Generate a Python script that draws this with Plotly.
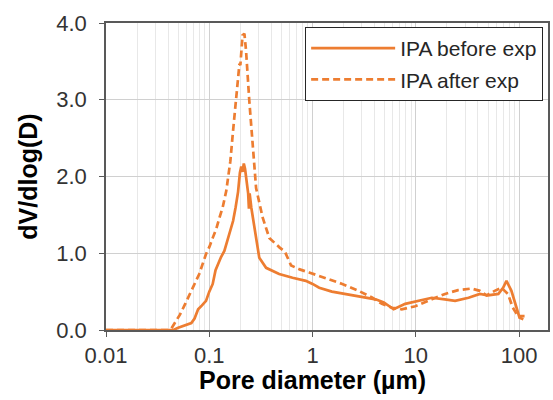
import plotly.graph_objects as go

# Pore diameter (µm) and dV/dlog(D)
before_d = [0.01, 0.03, 0.045, 0.05, 0.06, 0.067, 0.072, 0.078, 0.085, 0.093, 0.1, 0.108,
            0.115, 0.121, 0.13, 0.14, 0.15, 0.163, 0.17, 0.18, 0.19, 0.198, 0.204, 0.21,
            0.216, 0.222, 0.23, 0.238, 0.242, 0.246, 0.255, 0.275, 0.305, 0.355, 0.475,
            0.64, 0.86, 1.0, 1.16, 1.54, 2.24, 3.24, 4.08, 4.9, 6.1, 7.9, 10.6, 14.3, 19.1,
            24, 32.4, 41.7, 50, 63, 70, 75.5, 84.3, 91.4, 101, 110]
before_v = [0, 0, 0, 0.03, 0.07, 0.09, 0.15, 0.27, 0.32, 0.38, 0.5, 0.6,
            0.78, 0.86, 0.95, 1.03, 1.18, 1.34, 1.42, 1.6, 1.8, 2.05, 2.13, 2.06,
            2.17, 2.1, 1.9, 1.78, 1.58, 1.78, 1.6, 1.3, 0.94, 0.81, 0.73,
            0.68, 0.64, 0.6, 0.55, 0.5, 0.46, 0.43, 0.4, 0.36, 0.27, 0.34, 0.38, 0.42, 0.4,
            0.38, 0.42, 0.47, 0.45, 0.47, 0.55, 0.64, 0.51, 0.34, 0.16, 0.14]

after_d = [0.01, 0.03, 0.04, 0.043, 0.048, 0.052, 0.058, 0.065, 0.072, 0.08, 0.093, 0.1,
           0.108, 0.117, 0.126, 0.135, 0.146, 0.16, 0.169, 0.18, 0.187, 0.196, 0.2, 0.205,
           0.21, 0.219, 0.227, 0.244, 0.263, 0.284, 0.328, 0.381, 0.475, 0.54, 0.62, 0.75,
           0.925, 1.34, 1.94, 2.8, 3.8, 4.7, 5.9, 7.3, 9.9, 14.3, 19.2, 25.7, 34.7, 41.7,
           48.4, 58, 67.6, 78, 87, 98, 113]
after_v = [0, 0, 0, 0.02, 0.12, 0.2, 0.33, 0.47, 0.58, 0.73, 0.99, 1.08,
           1.2, 1.32, 1.47, 1.6, 1.81, 2.2, 2.56, 2.95, 3.2, 3.47, 3.45, 3.7,
           3.84, 3.86, 3.64, 2.99, 2.47, 1.85, 1.47, 1.2, 1.08, 1.02, 0.84, 0.79,
           0.75, 0.68, 0.6, 0.51, 0.42, 0.34, 0.29, 0.27, 0.31, 0.4, 0.47, 0.52, 0.54, 0.51,
           0.45, 0.51, 0.55, 0.47, 0.29, 0.18, 0.18]

series_names = ["IPA before exp", "IPA after exp"]
x_tick_vals = [0.01, 0.1, 1, 10, 100]
x_tick_text = ["0.01", "0.1", "1", "10", "100"]
y_tick_vals = [0, 1, 2, 3, 4]
y_tick_text = ["0.0", "1.0", "2.0", "3.0", "4.0"]
x_title = "Pore diameter (µm)"
y_title = "dV/dlog(D)"

ORANGE = "#ED7D31"
FONT = "Arial, Liberation Sans, sans-serif"

fig = go.Figure()
fig.add_trace(go.Scatter(x=before_d, y=before_v, mode="lines", name=series_names[0],
                         legendgroup="a",
                         line=dict(color=ORANGE, width=2.7)))
fig.add_trace(go.Scatter(x=after_d, y=after_v, mode="lines", name=series_names[1],
                         legendgroup="b",
                         line=dict(color=ORANGE, width=2.7, dash="7px,4px")))

fig.add_annotation(text="<b>" + x_title + "</b>", xref="paper", yref="paper",
                   x=0.468, y=-0.163, xanchor="center", yanchor="middle",
                   showarrow=False,
                   font=dict(size=25, color="#000000", family=FONT))

fig.update_layout(
    width=553, height=400,
    margin=dict(l=106, r=3, t=23, b=70),
    paper_bgcolor="white", plot_bgcolor="white",
    font=dict(family=FONT, color="#262626"),
    showlegend=True,
    legend=dict(x=0.989, y=0.987, xanchor="right", yanchor="top",
                bgcolor="white", bordercolor="#262626", borderwidth=1,
                font=dict(size=21, color="#262626", family=FONT),
                traceorder="grouped", tracegroupgap=1,
                itemwidth=84),
    xaxis=dict(type="log", range=[-2, 2.28],
               tickmode="array", tickvals=x_tick_vals, ticktext=x_tick_text,
               tickfont=dict(size=22, color="#333333"),
               ticks="outside", ticklen=5, tickcolor="#595959",
               showline=True, linecolor="#595959", linewidth=1.5, mirror=True,
               showgrid=True, gridcolor="#D0D0D0", gridwidth=1,
               minor=dict(dtick="D1", showgrid=True, gridcolor="#E8E8E8", gridwidth=1,
                          ticks=""),
               zeroline=False),
    yaxis=dict(range=[0, 4], tickmode="array", tickvals=y_tick_vals, ticktext=y_tick_text,
               tickfont=dict(size=22, color="#333333"),
               ticks="outside", ticklen=5, tickcolor="#595959",
               ticklabelstandoff=8,
               showline=True, linecolor="#595959", linewidth=1.5, mirror=True,
               showgrid=True, gridcolor="#D0D0D0", gridwidth=1,
               title=dict(text="<b>" + y_title + "</b>",
                          font=dict(size=25, color="#000000", family=FONT),
                          standoff=12),
               zeroline=False),
)

fig.write_html("out.html")
